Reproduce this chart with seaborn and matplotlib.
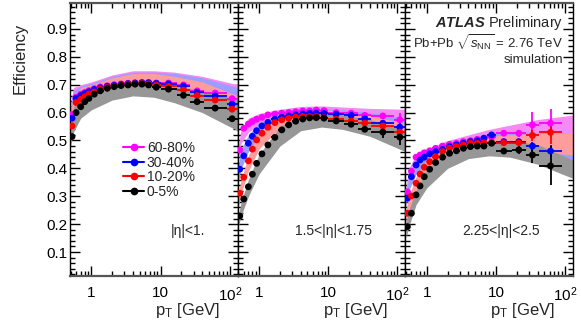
import numpy as np
import pandas as pd
import matplotlib
matplotlib.use('Agg')
import matplotlib.pyplot as plt
import seaborn as sns
from matplotlib.lines import Line2D
from matplotlib.ticker import MultipleLocator, LogLocator, NullFormatter

# pT binning (GeV)
pt_centers = [0.525, 0.6, 0.7, 0.8, 0.92, 1.1, 1.34, 1.69, 2.13, 2.68, 3.38, 4.27,
              5.37, 6.7, 8.66, 13.0, 21.4, 33.7, 61.5, 108.0]
pt_lo = [0.5, 0.55, 0.65, 0.75, 0.85, 1.0, 1.2, 1.5, 1.9, 2.4, 3.0, 3.8,
         4.8, 6.0, 7.5, 10, 17, 27, 42, 90]
pt_hi = [0.55, 0.65, 0.75, 0.85, 1.0, 1.2, 1.5, 1.9, 2.4, 3.0, 3.8, 4.8,
         6.0, 7.5, 10, 17, 27, 42, 90, 130]

centralities = ['60-80%', '30-40%', '10-20%', '0-5%']
point_colors = ['#ff00ff', '#0000ff', '#ff0000', '#000000']
band_colors = ['#f58af5', '#9d9dff', '#ff9c9c', '#979797']

# |eta|<1
eff1_6080 = [0.594, 0.655, 0.666, 0.672, 0.679, 0.686, 0.692, 0.696, 0.700, 0.703, 0.705, 0.707,
             0.708, 0.708, 0.706, 0.706, 0.699, 0.678, 0.670, 0.650]
eff1_3040 = [0.580, 0.651, 0.661, 0.668, 0.675, 0.683, 0.689, 0.694, 0.698, 0.701, 0.704, 0.706,
             0.707, 0.707, 0.705, 0.703, 0.695, 0.673, 0.660, 0.630]
eff1_1020 = [0.552, 0.636, 0.648, 0.657, 0.667, 0.674, 0.684, 0.690, 0.695, 0.699, 0.702, 0.703,
             0.704, 0.703, 0.698, 0.694, 0.681, 0.661, 0.645, 0.612]
eff1_005 = [0.514, 0.600, 0.621, 0.639, 0.651, 0.666, 0.678, 0.687, 0.693, 0.697, 0.699, 0.702,
            0.702, 0.699, 0.691, 0.684, 0.662, 0.639, 0.616, 0.578]
err1 = [0] * 18 + [0.005, 0.008]

# 1.5<|eta|<1.75
eff2_6080 = [0.466, 0.544, 0.559, 0.568, 0.576, 0.583, 0.592, 0.595, 0.598, 0.600, 0.603, 0.606,
             0.606, 0.609, 0.607, 0.600, 0.598, 0.590, 0.588, 0.574]
eff2_3040 = [0.397, 0.445, 0.490, 0.515, 0.535, 0.552, 0.565, 0.576, 0.583, 0.588, 0.592, 0.595,
             0.597, 0.598, 0.597, 0.594, 0.590, 0.578, 0.562, 0.548]
eff2_1020 = [0.311, 0.368, 0.427, 0.469, 0.502, 0.526, 0.547, 0.564, 0.574, 0.580, 0.584, 0.586,
             0.586, 0.586, 0.582, 0.576, 0.570, 0.562, 0.552, 0.530]
eff2_005 = [0.229, 0.290, 0.334, 0.379, 0.418, 0.452, 0.484, 0.511, 0.538, 0.556, 0.569, 0.577,
            0.581, 0.582, 0.580, 0.570, 0.558, 0.540, 0.530, 0.512]
err2_6080 = [0] * 17 + [0.008, 0.012, 0.025]
err2_3040 = [0] * 17 + [0.008, 0.012, 0.02]
err2_1020 = [0] * 17 + [0.008, 0.012, 0.02]
err2_005 = [0] * 17 + [0.01, 0.02, 0.03]

# 2.25<|eta|<2.5
eff3_6080 = [0.316, 0.390, 0.440, 0.448, 0.456, 0.463, 0.472, 0.480, 0.486, 0.490, 0.496, 0.499,
             0.504, 0.508, 0.512, 0.526, 0.526, 0.556, 0.562]
eff3_3040 = [0.293, 0.370, 0.412, 0.430, 0.440, 0.452, 0.460, 0.468, 0.478, 0.484, 0.490, 0.496,
             0.499, 0.508, 0.520, 0.496, 0.496, 0.480, 0.462]
eff3_1020 = [0.239, 0.301, 0.347, 0.380, 0.404, 0.424, 0.442, 0.460, 0.472, 0.478, 0.484, 0.490,
             0.490, 0.492, 0.492, 0.492, 0.492, 0.518, 0.529]
eff3_005 = [0.191, 0.239, 0.305, 0.337, 0.370, 0.397, 0.421, 0.440, 0.454, 0.463, 0.472, 0.478,
            0.480, 0.480, 0.490, 0.462, 0.466, 0.448, 0.409]
err3_6080 = [0] * 15 + [0.01, 0.012, 0.045, 0.05]
err3_3040 = [0] * 15 + [0.008, 0.01, 0.015, 0.02]
err3_1020 = [0] * 15 + [0.008, 0.01, 0.02, 0.04]
err3_005 = [0] * 15 + [0.01, 0.015, 0.03, 0.07]

# systematic bands, sampled at these pT values
band_pt = [0.5, 0.55, 0.7, 1, 2, 4, 8, 16, 40, 130]

band1_lo = [[0.56, 0.62, 0.645, 0.665, 0.685, 0.695, 0.695, 0.69, 0.675, 0.65],
            [0.55, 0.61, 0.64, 0.66, 0.68, 0.69, 0.69, 0.685, 0.67, 0.63],
            [0.52, 0.58, 0.62, 0.65, 0.67, 0.68, 0.68, 0.67, 0.65, 0.60],
            [0.48, 0.53, 0.58, 0.61, 0.645, 0.66, 0.655, 0.635, 0.60, 0.535]]
band1_hi = [[0.63, 0.69, 0.70, 0.71, 0.735, 0.75, 0.75, 0.745, 0.73, 0.70],
            [0.62, 0.68, 0.695, 0.705, 0.73, 0.745, 0.745, 0.74, 0.725, 0.69],
            [0.60, 0.66, 0.69, 0.70, 0.725, 0.74, 0.74, 0.73, 0.71, 0.66],
            [0.56, 0.62, 0.65, 0.665, 0.69, 0.705, 0.705, 0.695, 0.68, 0.645]]

band2_lo = [[0.43, 0.49, 0.53, 0.555, 0.58, 0.59, 0.595, 0.59, 0.58, 0.565],
            [0.35, 0.40, 0.46, 0.51, 0.56, 0.585, 0.59, 0.585, 0.57, 0.545],
            [0.26, 0.31, 0.39, 0.47, 0.545, 0.57, 0.575, 0.57, 0.555, 0.52],
            [0.19, 0.23, 0.30, 0.38, 0.48, 0.535, 0.548, 0.54, 0.515, 0.46]]
band2_hi = [[0.48, 0.54, 0.58, 0.597, 0.612, 0.622, 0.624, 0.62, 0.615, 0.612],
            [0.41, 0.47, 0.52, 0.565, 0.60, 0.615, 0.615, 0.61, 0.60, 0.58],
            [0.31, 0.36, 0.445, 0.53, 0.585, 0.605, 0.61, 0.605, 0.59, 0.56],
            [0.23, 0.28, 0.36, 0.45, 0.55, 0.59, 0.598, 0.592, 0.575, 0.535]]

band3_lo = [[0.29, 0.35, 0.41, 0.43, 0.46, 0.48, 0.495, 0.505, 0.515, 0.526],
            [0.26, 0.32, 0.38, 0.42, 0.455, 0.47, 0.475, 0.475, 0.46, 0.43],
            [0.20, 0.24, 0.31, 0.38, 0.44, 0.465, 0.47, 0.47, 0.46, 0.448],
            [0.15, 0.19, 0.27, 0.33, 0.40, 0.435, 0.445, 0.44, 0.415, 0.364]]
band3_hi = [[0.33, 0.40, 0.45, 0.47, 0.50, 0.52, 0.54, 0.555, 0.575, 0.591],
            [0.31, 0.37, 0.43, 0.46, 0.49, 0.51, 0.525, 0.53, 0.53, 0.525],
            [0.25, 0.30, 0.37, 0.43, 0.485, 0.505, 0.515, 0.52, 0.525, 0.526],
            [0.20, 0.25, 0.32, 0.395, 0.46, 0.485, 0.50, 0.50, 0.485, 0.43]]

panels = [
    ('|η|<1.', [eff1_6080, eff1_3040, eff1_1020, eff1_005], [err1] * 4, band1_lo, band1_hi, 0.60),
    ('1.5<|η|<1.75', [eff2_6080, eff2_3040, eff2_1020, eff2_005],
     [err2_6080, err2_3040, err2_1020, err2_005], band2_lo, band2_hi, 0.34),
    ('2.25<|η|<2.5', [eff3_6080, eff3_3040, eff3_1020, eff3_005],
     [err3_6080, err3_3040, err3_1020, err3_005], band3_lo, band3_hi, 0.337),
]

sns.set_theme(style='ticks')
plt.rcParams['font.family'] = ['Liberation Sans', 'DejaVu Sans']
plt.rcParams['mathtext.fontset'] = 'custom'
plt.rcParams['mathtext.rm'] = 'Liberation Sans'
plt.rcParams['mathtext.it'] = 'Liberation Sans:italic'
plt.rcParams['mathtext.bf'] = 'Liberation Sans:bold'
plt.rcParams['mathtext.bfit'] = 'Liberation Sans:italic:bold'

fig, axes = plt.subplots(1, 3, figsize=(5.81, 3.26), dpi=100, sharey=True)
fig.subplots_adjust(left=70/581, right=573/581, bottom=1-276/326, top=1-3/326, wspace=0)

for ax, (label, effs, errs, blo, bhi, tx) in zip(axes, panels):
    ax.set_xscale('log')
    # bands
    for i in range(4):
        ax.fill_between(band_pt, blo[i], bhi[i], color=band_colors[i], lw=0, zorder=1)
    # points with bin-width and stat errors
    rows = []
    for i in range(4):
        n = len(effs[i])
        x = np.array(pt_centers[:n])
        xl = x - np.array(pt_lo[:n])
        xh = np.array(pt_hi[:n]) - x
        ax.errorbar(x, effs[i], xerr=[xl, xh], yerr=errs[i], fmt='none',
                    ecolor=point_colors[i], elinewidth=1.3, capsize=0, zorder=3)
        for xv, yv in zip(x, effs[i]):
            rows.append({'pt': xv, 'eff': yv, 'cent': centralities[i]})
    df = pd.DataFrame(rows)
    sns.scatterplot(data=df, x='pt', y='eff', hue='cent', palette=point_colors,
                    hue_order=centralities, s=24, edgecolor='none', legend=False,
                    ax=ax, zorder=4)

    ax.set_xlim(0.49, 130)
    ax.set_ylim(0.014, 0.993)
    ax.set_xlabel('')
    ax.set_ylabel('')
    ax.set_xticks([1, 10, 100])
    ax.set_xticklabels(['1', '10', r'$10^{2}$'])
    ax.xaxis.set_minor_locator(LogLocator(base=10, subs=np.arange(2, 10), numticks=20))
    ax.xaxis.set_minor_formatter(NullFormatter())
    ax.yaxis.set_major_locator(MultipleLocator(0.1))
    ax.yaxis.set_minor_locator(MultipleLocator(0.02))
    ax.tick_params(which='both', direction='in', top=True, right=True, colors='black')
    ax.tick_params(which='major', length=7, width=1)
    ax.tick_params(which='minor', length=3.5, width=1)
    ax.tick_params(axis='x', labelsize=11, pad=7)
    ax.tick_params(axis='y', labelsize=11, pad=2)
    for side in ['left', 'right']:
        ax.spines[side].set_color('black')
        ax.spines[side].set_linewidth(1)
    for side in ['top', 'bottom']:
        ax.spines[side].set_color('#555555')
        ax.spines[side].set_linewidth(1.6)

    ax.text(tx, 0.165, label, transform=ax.transAxes, ha='left', va='center', fontsize=10)
    ax.text(1 - 18/168, -0.125, r'$\mathrm{p}_{\mathrm{T}}$ [GeV]', transform=ax.transAxes,
            ha='right', va='center', fontsize=12)

for ax in axes[1:]:
    ax.tick_params(labelleft=False)

fig.text(20/581, 1 - 58/326, 'Efficiency', rotation=90, ha='center', va='center', fontsize=12)

ax3 = axes[2]
ax3.text(0.94, 0.927, r'$\mathbfit{ATLAS}$ Preliminary', transform=ax3.transAxes,
         ha='right', va='center', fontsize=10.5)
ax3.text(0.94, 0.853, r'Pb+Pb $\sqrt{s_{\mathrm{NN}}}$ = 2.76 TeV', transform=ax3.transAxes,
         ha='right', va='center', fontsize=9.5)
ax3.text(0.94, 0.791, 'simulation', transform=ax3.transAxes, ha='right', va='center', fontsize=9.5)

handles = [Line2D([0], [0], color=c, marker='o', markersize=4.5, lw=1.5) for c in point_colors]
axes[0].legend(handles, centralities, loc='upper left', bbox_to_anchor=(0.317, 0.495),
               frameon=False, borderpad=0, borderaxespad=0, handlelength=1.5,
               handletextpad=0.2, labelspacing=0.05, fontsize=10)

fig.savefig('out.png', dpi=100)
